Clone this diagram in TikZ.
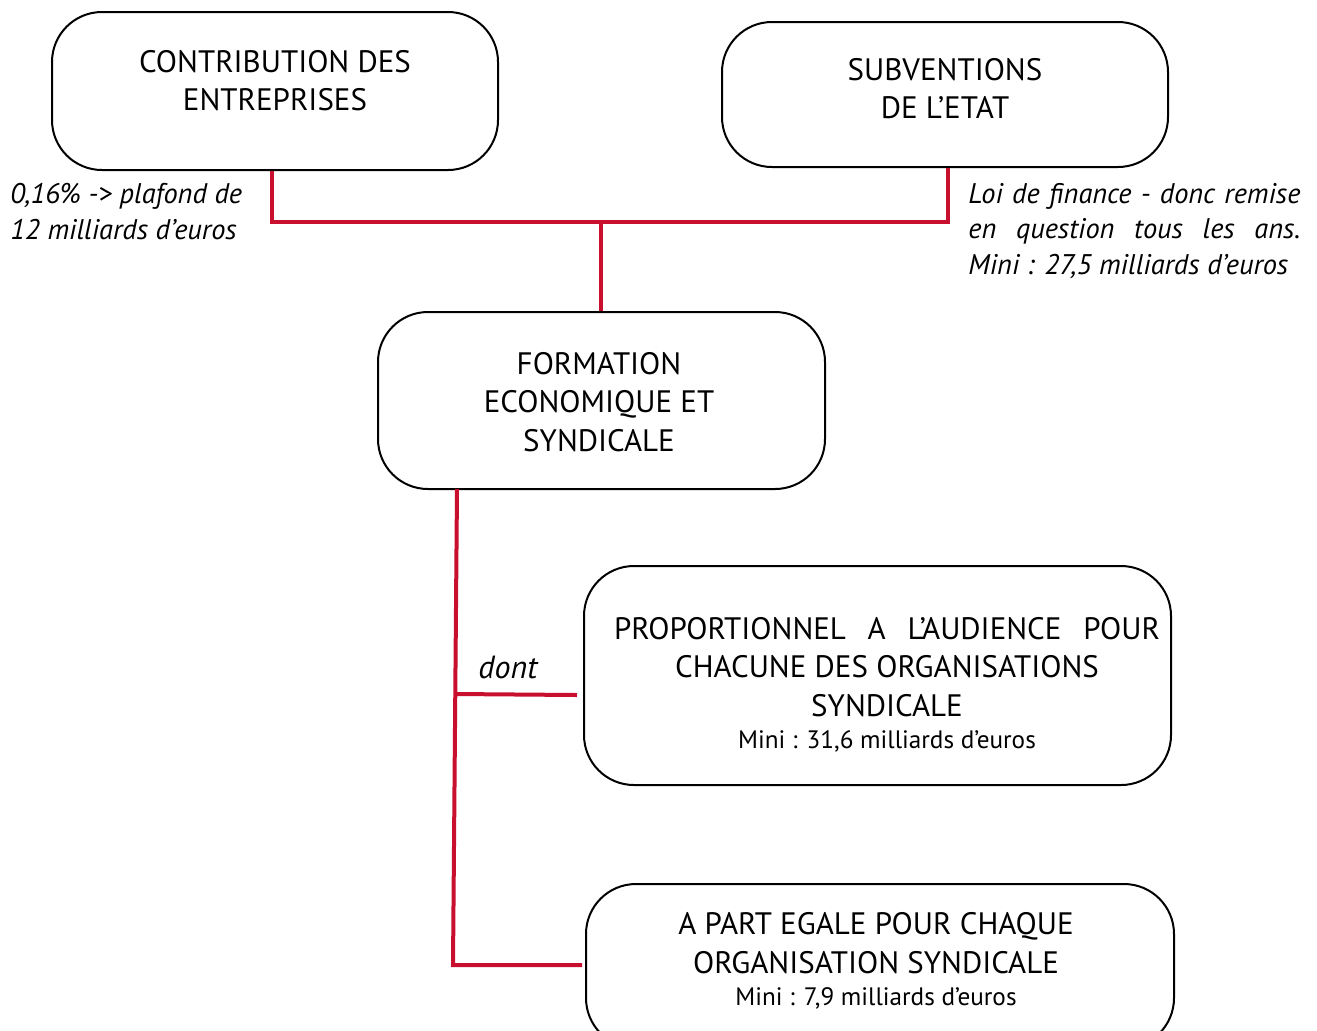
\documentclass[tikz,border=0pt]{standalone}
\usepackage{fontspec}
\setmainfont{PT Sans}
\definecolor{lienrouge}{HTML}{C8102E}
\tikzset{
  boite/.style={draw=black, line width=1pt, rounded corners=25pt, inner sep=0pt},
  lien/.style={draw=lienrouge, line width=2pt},
  ligne/.style={anchor=base, inner sep=0pt, font=\fontsize{15.5}{18}\selectfont},
  petit/.style={anchor=base, inner sep=0pt, font=\fontsize{12.6}{14}\selectfont},
  note/.style={anchor=base west, inner sep=0pt, font=\fontsize{14.2}{17}\selectfont\itshape},
}
\begin{document}
\begin{tikzpicture}[x=0.5pt, y=-0.5pt]
\useasboundingbox (0,0) rectangle (1317,1030);
\clip (0,0) rectangle (1317,1030);
% boxes
\node[boite, minimum width=223pt, minimum height=79pt] (b1) at (275,91) {};
\node[boite, minimum width=223pt, minimum height=72.5pt] (b2) at (945,94.5) {};
\node[boite, minimum width=223.5pt, minimum height=88.5pt] (b3) at (601.5,400.5) {};
\node[boite, minimum width=293.5pt, minimum height=109.5pt] (b4) at (877.5,675.5) {};
\node[boite, minimum width=294pt, minimum height=82pt] (b5) at (880,966) {};
% texts
\node[ligne] (t11) at (275,72) {CONTRIBUTION DES};
\node[ligne] (t12) at (275,110) {ENTREPRISES};
\node[ligne] (t21) at (945,80) {SUBVENTIONS};
\node[ligne] (t22) at (945,118) {DE L’ETAT};
\node[ligne] (t31) at (599,374) {FORMATION};
\node[ligne] (t32) at (599,412) {ECONOMIQUE ET};
\node[ligne] (t33) at (599,451) {SYNDICALE};
\node[ligne] (t41) at (887,639) {\hbox to 273pt{PROPORTIONNEL\hfill A\hfill L’AUDIENCE\hfill POUR}};
\node[ligne] (t42) at (887,677) {CHACUNE DES ORGANISATIONS};
\node[ligne] (t43) at (887,716) {SYNDICALE};
\node[petit] (t44) at (887,748) {Mini : 31,6 milliards d’euros};
\node[ligne] (t51) at (876,934) {A PART EGALE POUR CHAQUE};
\node[ligne] (t52) at (876,973) {ORGANISATION SYNDICALE};
\node[petit] (t53) at (876,1005) {Mini : 7,9 milliards d’euros};
% annotations
\node[note] (n11) at (10,203) {0,16\% -> plafond de};
\node[note] (n12) at (10,239) {12 milliards d’euros};
\node[note] (n21) at (968,203) {\hbox to 166pt{Loi de finance - donc remise}};
\node[note] (n22) at (968,238) {\hbox to 166pt{en\hfill question\hfill tous\hfill les\hfill ans.}};
\node[note] (n23) at (968,274) {Mini : 27,5 milliards d’euros};
\node[note, font=\fontsize{16}{18}\selectfont\itshape] (dont) at (478,678) {dont};
% connectors
\coordinate (j1) at (272,222);
\coordinate (j2) at (948,222);
\coordinate (jm) at (601,222);
\coordinate (d0) at (457,489);
\coordinate (d1) at (456,694);
\coordinate (d2) at (453,965);
\coordinate (e4) at (577,695);
\coordinate (e5) at (582,965);
\draw[lien] (b1.south -| j1) -- (j1) -- (j2) -- (b2.south -| j2);
\draw[lien] (jm) -- (b3.north -| jm);
\draw[lien] (d0) -- (d2) -- (e5);
\draw[lien] (d1) -- (e4);
\end{tikzpicture}
\end{document}
